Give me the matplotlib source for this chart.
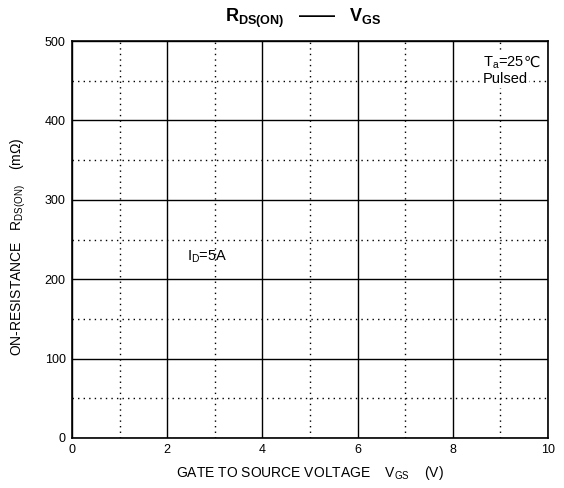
import matplotlib
matplotlib.use('Agg')
import matplotlib.pyplot as plt
from matplotlib.ticker import MultipleLocator

# axis ranges and ticks
x_lim = [0, 10]
y_lim = [0, 500]
x_ticks = [0, 2, 4, 6, 8, 10]
y_ticks = [0, 100, 200, 300, 400, 500]

plt.rcParams['font.family'] = ['Liberation Sans', 'DejaVu Sans']
plt.rcParams['mathtext.fontset'] = 'custom'
plt.rcParams['mathtext.rm'] = 'Liberation Sans'
plt.rcParams['mathtext.it'] = 'Liberation Sans'
plt.rcParams['mathtext.bf'] = 'Liberation Sans:bold'

fig = plt.figure(figsize=(5.64, 4.88), dpi=100)
ax = fig.add_axes([72/564, 50/488, 476/564, 397/488])
ax.set_xlim(x_lim)
ax.set_ylim(y_lim)
ax.set_xticks(x_ticks)
ax.set_yticks(y_ticks)
ax.xaxis.set_minor_locator(MultipleLocator(1))
ax.yaxis.set_minor_locator(MultipleLocator(50))
ax.tick_params(which='both', length=0, labelsize=9, pad=4.5)
ax.grid(which='major', color='black', linewidth=1.0, linestyle='-')
ax.grid(which='minor', color='black', linewidth=1.0, linestyle=(0, (1, 3)))
for s in ax.spines.values():
    s.set_linewidth(1.2)

fig.text(303/564, 1 - 18/488, r'$\mathbf{R_{DS(ON)}}$   ——   $\mathbf{V_{GS}}$',
         ha='center', va='center', fontsize=13, fontweight='bold')
fig.text(310/564, 1 - 473/488, r'GATE TO SOURCE VOLTAGE    V$_{\rm GS}$    (V)',
         ha='center', va='center', fontsize=10)
fig.text(18/564, 1 - 247/488, r'ON-RESISTANCE   R$_{\rm DS(ON)}$    (m$\Omega$)',
         ha='center', va='center', rotation=90, fontsize=10)

ax.text(2.42, 228, r'I$_{\rm D}$=5A', fontsize=10.5, ha='left', va='center')
t1 = ax.text(8.63, 473, r'T$_{\rm a}$=25', fontsize=10.5, ha='left', va='center',
             bbox=dict(facecolor='white', edgecolor='none', pad=1))
ax.annotate('℃', xy=(1, 0.5), xycoords=t1, ha='left', va='center',
            fontsize=10.5, family='DejaVu Sans',
            bbox=dict(facecolor='white', edgecolor='none', pad=1))
ax.text(8.63, 452, 'Pulsed', fontsize=10.5, ha='left', va='center',
        bbox=dict(facecolor='white', edgecolor='none', pad=1))

fig.savefig('out.png', dpi=100)
